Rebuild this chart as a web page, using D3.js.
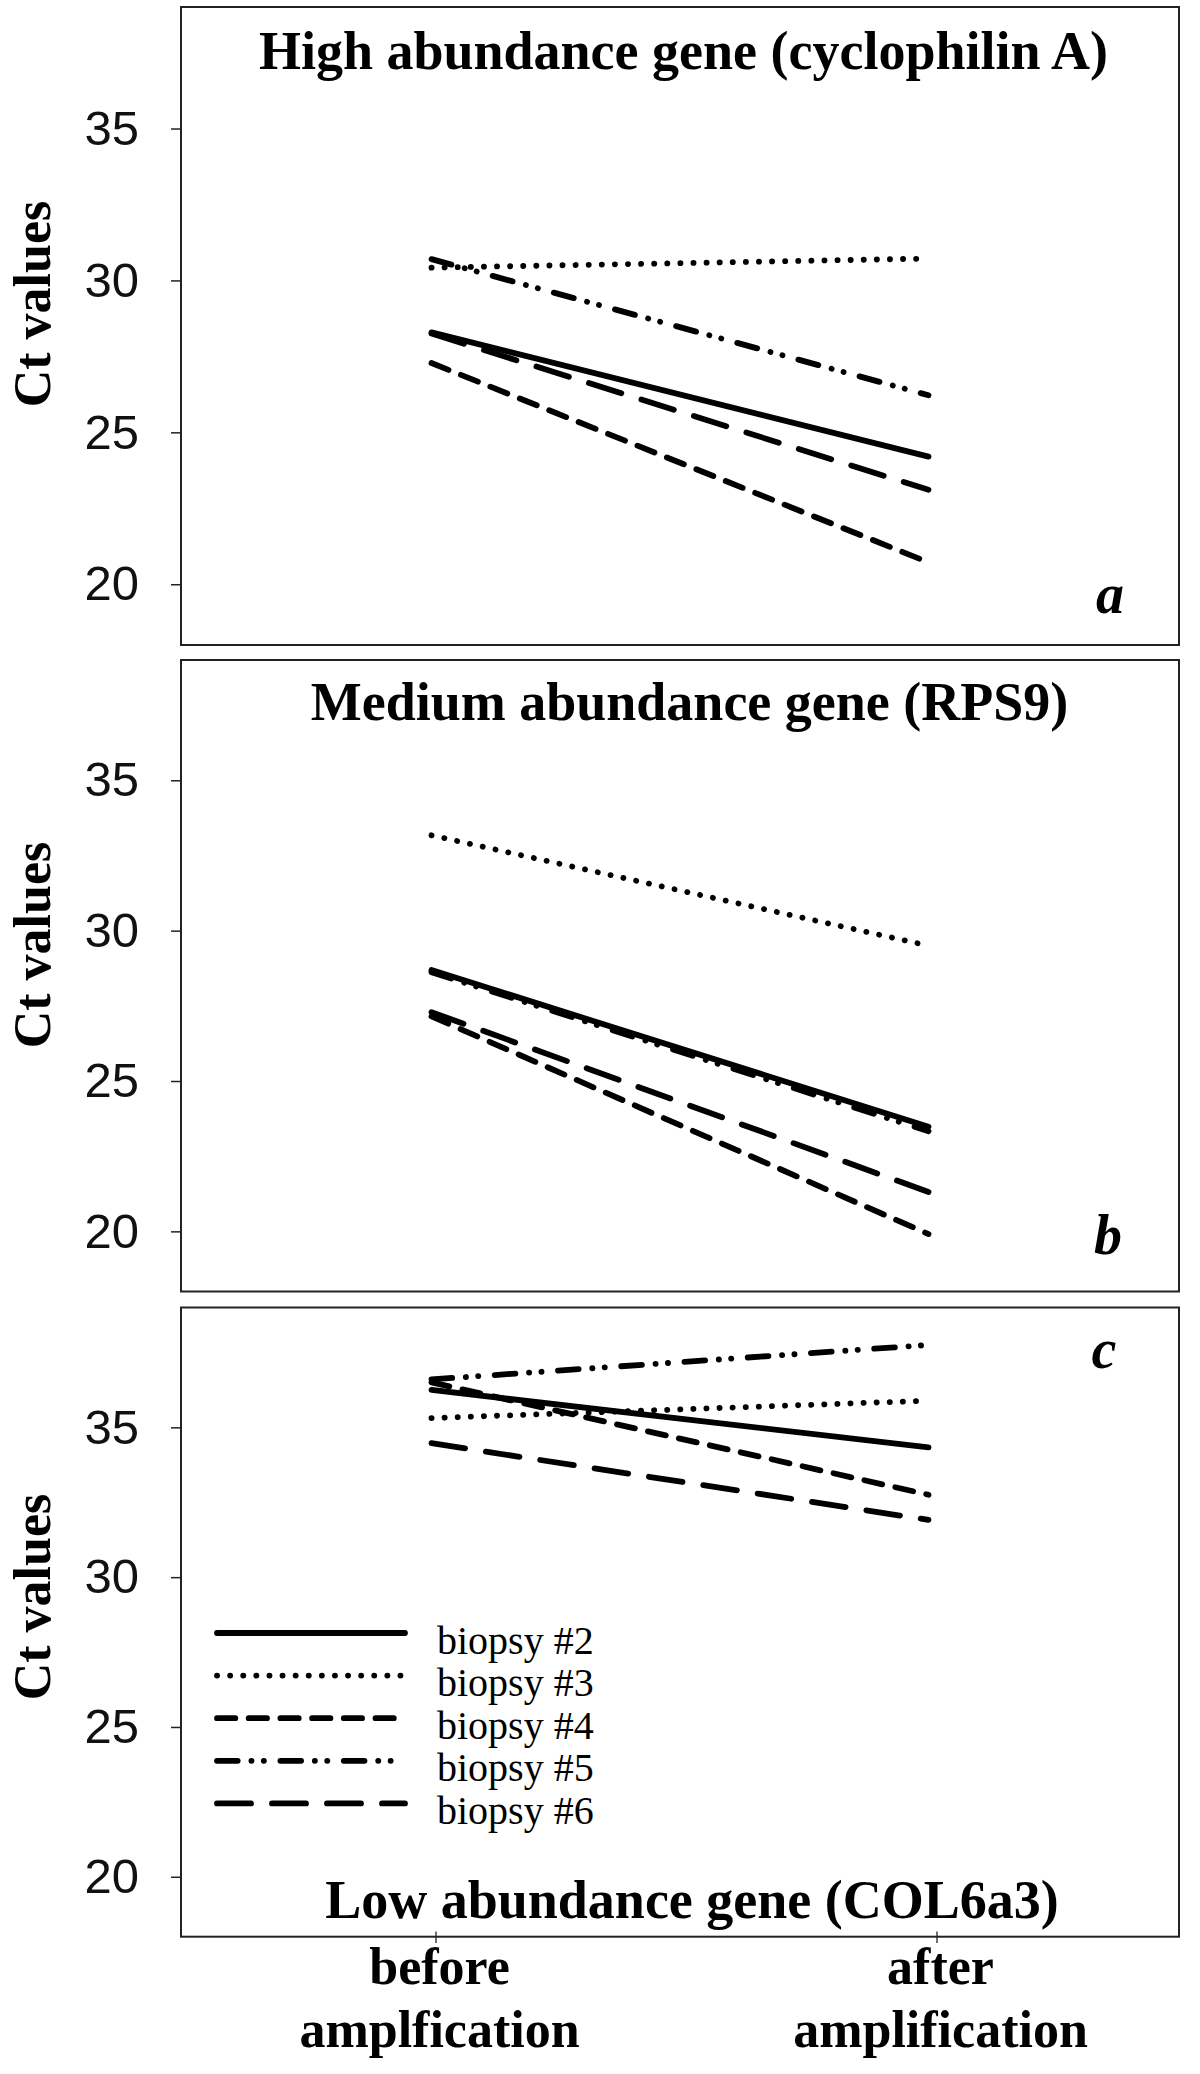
<!DOCTYPE html>
<html><head><meta charset="utf-8">
<script src="https://cdn.jsdelivr.net/npm/d3@7"></script>
<style>html,body{margin:0;padding:0;background:#fff;} svg{display:block;}</style>
</head><body>
<svg id="chart" width="1200" height="2074"></svg>
<script>
// ---------- data ----------
const categories = ["before", "after"];
const xLabelLines = [["before", "amplfication"], ["after", "amplification"]];
const seriesNames = ["biopsy #2", "biopsy #3", "biopsy #4", "biopsy #5", "biopsy #6"];
const yTickValues = [20, 25, 30, 35];
const panelTitles = ["High abundance gene (cyclophilin A)", "Medium abundance gene (RPS9)", "Low abundance gene (COL6a3)"];
const panelLetters = ["a", "b", "c"];

// Ct values per biopsy (#2..#6)
const highBefore = [28.29, 30.42, 27.28, 30.70, 28.25];
const highAfter  = [24.20, 30.72, 20.72, 26.22, 23.11];
const medBefore  = [28.69, 33.17, 27.15, 28.62, 27.29];
const medAfter   = [23.48, 29.50, 19.91, 23.33, 21.31];
const lowBefore  = [36.25, 35.31, 36.50, 36.60, 34.47];
const lowAfter   = [34.33, 35.89, 32.75, 37.75, 31.91];

// ---------- styles ----------
const dashes = [null, "0.1,13", "18.3,13.4", "20.7,13.7,0.1,12.3,0.1,16.5", "34,21"];
const serif = "'Liberation Serif','Times New Roman',Times,serif";
const sans = "'Liberation Sans',Arial,Helvetica,sans-serif";

const svg = d3.select("#chart");
const left = 181, right = 1179;

const x = d3.scalePoint().domain(categories).range([left, right]).padding(0.504);

const panels = [
  {top: 7, bottom: 645, titleX: 683.5, titleY: 69, letterX: 1110, letterY: 613, labelY: 304, before: highBefore, after: highAfter},
  {top: 660, bottom: 1291.5, titleX: 689.5, titleY: 720, letterX: 1108, letterY: 1254, labelY: 945, before: medBefore, after: medAfter},
  {top: 1307.5, bottom: 1936.7, titleX: 692, titleY: 1918, letterX: 1104, letterY: 1368, labelY: 1597, before: lowBefore, after: lowAfter}
];

panels.forEach((p, pi) => {
  const y = d3.scaleLinear().domain([18, 39]).range([p.bottom, p.top]);
  const g = svg.append("g");

  // frame
  g.append("rect").attr("x", left).attr("y", p.top)
    .attr("width", right - left).attr("height", p.bottom - p.top)
    .attr("fill", "none").attr("stroke", "#222").attr("stroke-width", 2);

  // y axis
  const ya = g.append("g").attr("transform", `translate(${left},0)`)
    .call(d3.axisLeft(y).tickValues(yTickValues).tickSize(10).tickPadding(32));
  ya.select(".domain").remove();
  ya.selectAll(".tick line").attr("stroke", "#222").attr("stroke-width", 1.5);
  ya.selectAll(".tick text").attr("font-family", sans).attr("font-size", 49)
    .attr("fill", "#111");

  // y label
  g.append("text").attr("transform", `translate(50,${p.labelY}) rotate(-90)`)
    .attr("text-anchor", "middle").attr("font-family", serif)
    .attr("font-weight", "bold").attr("font-size", 52).text("Ct values");

  // title
  g.append("text").attr("x", p.titleX).attr("y", p.titleY)
    .attr("text-anchor", "middle").attr("font-family", serif)
    .attr("font-weight", "bold").attr("font-size", 54).text(panelTitles[pi]);

  // panel letter
  g.append("text").attr("x", p.letterX).attr("y", p.letterY)
    .attr("text-anchor", "middle").attr("font-family", serif)
    .attr("font-weight", "bold").attr("font-style", "italic")
    .attr("font-size", 56).text(panelLetters[pi]);

  // lines
  const line = d3.line().x(d => x(d.cat)).y(d => y(d.v));
  seriesNames.forEach((s, i) => {
    const pts = [{cat: categories[0], v: p.before[i]}, {cat: categories[1], v: p.after[i]}];
    g.append("path").datum(pts).attr("d", line)
      .attr("fill", "none").attr("stroke", "#000").attr("stroke-width", 5.8)
      .attr("stroke-linecap", "round")
      .attr("stroke-dasharray", dashes[i]);
  });
});

// legend (in panel c)
const legY0 = 1633, legStep = 42.6;
const leg = svg.append("g");
seriesNames.forEach((s, i) => {
  const yy = legY0 + i * legStep;
  leg.append("line").attr("x1", 217).attr("x2", 405).attr("y1", yy).attr("y2", yy)
    .attr("stroke", "#000").attr("stroke-width", 5.8).attr("stroke-linecap", "round")
    .attr("stroke-dasharray", dashes[i]);
  leg.append("text").attr("x", 437).attr("y", yy + 20.5)
    .attr("font-family", serif).attr("font-size", 40).text(s);
});

// bottom axis
const xa = d3.scalePoint().domain(categories).range([185, 1187]).padding(0.5);
const xg = svg.append("g").attr("transform", "translate(0,1931.5)")
  .call(d3.axisBottom(xa).tickSize(11.5).tickFormat(""));
xg.select(".domain").remove();
xg.selectAll(".tick line").attr("stroke", "#222").attr("stroke-width", 1.3);

categories.forEach((c, i) => {
  xLabelLines[i].forEach((t, j) => {
    svg.append("text").attr("x", xa(c) + 4).attr("y", j === 0 ? 1984 : 2047)
      .attr("text-anchor", "middle").attr("font-family", serif)
      .attr("font-weight", "bold").attr("font-size", 52).text(t);
  });
});
</script>
</body></html>
